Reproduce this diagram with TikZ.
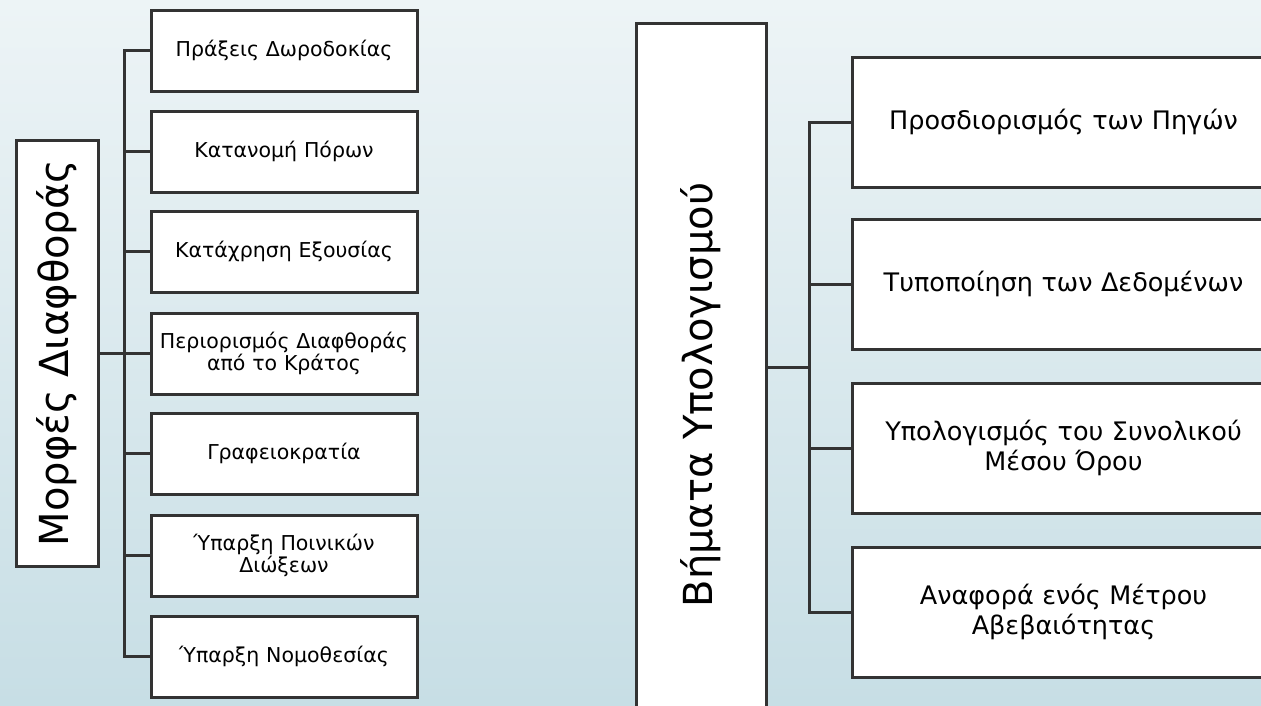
\documentclass[tikz,border=0pt]{standalone}
\usepackage{fontspec}
\setmainfont{DejaVu Sans}
\definecolor{bgtop}{RGB}{237,244,246}
\definecolor{bgbot}{RGB}{199,222,229}
\definecolor{edge}{RGB}{51,51,51}
\begin{document}
\begin{tikzpicture}[x=1pt,y=-1pt,
  box/.style={draw=edge,line width=3pt,fill=white,inner sep=2pt,align=center,text=black},
  lchild/.style={box,minimum width=266pt,minimum height=81pt,text width=262pt,font=\fontsize{20.5}{22}\selectfont},
  rchild/.style={box,minimum width=423pt,minimum height=130pt,text width=415pt,font=\fontsize{25.5}{30}\selectfont},
  rootlabel/.style={rotate=90,text=black,font=\fontsize{40}{44}\selectfont},
  conn/.style={draw=edge,line width=3pt}]
\useasboundingbox (0,0) rectangle (1261,705);
\clip (0,0) rectangle (1261,705);
\shade[top color=bgtop,bottom color=bgbot] (0,0) rectangle (1261,705);
% left diagram
\node[box,minimum width=82pt,minimum height=426pt] (lroot) at (57,353) {};
\node[rootlabel] (lrootlabel) at (57,353) {Μορφές Διαφθοράς};
\node[lchild] (l1) at (284,50.5) {Πράξεις Δωροδοκίας};
\node[lchild] (l2) at (284,151.5) {Κατανομή Πόρων};
\node[lchild] (l3) at (284,251.5) {Κατάχρηση Εξουσίας};
\node[lchild] (l4) at (284,353.5) {Περιορισμός Διαφθοράς\\από το Κράτος};
\node[lchild] (l5) at (284,453.5) {Γραφειοκρατία};
\node[lchild] (l6) at (284,555.5) {Ύπαρξη Ποινικών\\Διώξεων};
\node[lchild] (l7) at (284,656.5) {Ύπαρξη Νομοθεσίας};
\coordinate (lbus) at (124,353);
\draw[conn] (lroot.east) -- (lbus);
\draw[conn,line cap=rect] (l1.west) -- (lbus |- l1.west) -- (lbus |- l7.west) -- (l7.west);
\foreach \n in {l2,l3,l4,l5,l6} \draw[conn] (\n.west) -- (lbus |- \n.west);
% right diagram
\node[box,minimum width=130pt,minimum height=744pt] (rroot) at (701,395) {};
\node[rootlabel] (rrootlabel) at (701,395) {Βήματα Υπολογισμού};
\node[rchild] (r1) at (1063.5,122) {Προσδιορισμός των Πηγών};
\node[rchild] (r2) at (1063.5,284) {Τυποποίηση των Δεδομένων};
\node[rchild] (r3) at (1063.5,448) {Υπολογισμός του Συνολικού\\Μέσου Όρου};
\node[rchild] (r4) at (1063.5,612) {Αναφορά ενός Μέτρου\\Αβεβαιότητας};
\coordinate (rbus) at (809,367);
\draw[conn] (rroot.east |- rbus) -- (rbus);
\draw[conn,line cap=rect] (r1.west) -- (rbus |- r1.west) -- (rbus |- r4.west) -- (r4.west);
\foreach \n in {r2,r3} \draw[conn] (\n.west) -- (rbus |- \n.west);
\end{tikzpicture}
\end{document}
